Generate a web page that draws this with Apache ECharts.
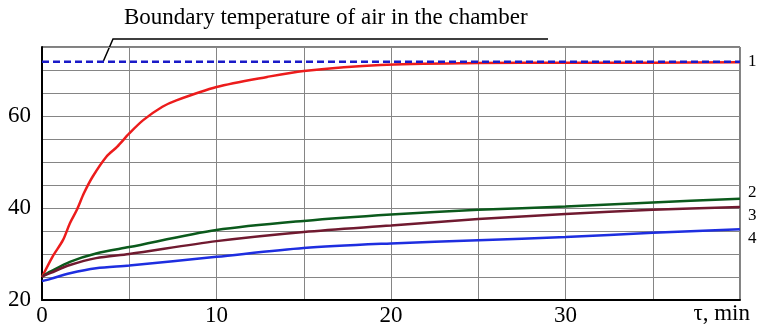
<!DOCTYPE html>
<html lang="en">
<head>
    <meta charset="UTF-8">
    <title>Air temperature in the chamber</title>
    <style>
        * {
            margin: 0px;
            padding: 0px;
        }

        #main {
            width: 757px;
            height: 328px;
            background-color: #ffffff;
        }
    </style>
</head>
<body>
<div id="main"></div>
<script src="https://cdn.jsdelivr.net/npm/echarts@6/dist/echarts.min.js"></script>
<script type="text/javascript">
    // curve 1 (red)
    var timeRed = [0, 0.6, 1.2, 1.6, 2.0, 2.4, 2.9, 3.7, 4.3, 5.0, 5.8, 6.9, 7.7, 10, 12.9, 15, 19.4, 25, 30, 35, 40];
    var tempRed = [25.0, 29.4, 33.0, 36.7, 39.6, 43.2, 46.8, 51.2, 53.3, 56.2, 59.1, 62.0, 63.4, 66.3, 68.5, 69.8, 71.1, 71.5, 71.6, 71.6, 71.7];

    // curves 2..4 share the same time samples
    var timeLow = [0, 0.5, 1.6, 3.1, 5, 10, 15, 20, 25, 30, 35, 40];
    var tempGreen = [25.1, 26.2, 28.3, 30.1, 31.5, 35.2, 37.2, 38.6, 39.6, 40.3, 41.2, 42.0];
    var tempMaroon = [25.1, 25.9, 27.6, 29.1, 30.0, 32.8, 34.8, 36.2, 37.6, 38.7, 39.6, 40.2];
    var tempBlue = [24.1, 24.6, 25.8, 26.9, 27.5, 29.4, 31.3, 32.3, 33.0, 33.7, 34.6, 35.4];

    var boundaryTemp = 71.8;
    var xTickLabels = [0, 10, 20, 30];
    var yTickLabels = [20, 40, 60];
    var curveNames = ['1', '2', '3', '4'];

    function pairs(xs, ys) {
        var out = [];
        for (var i = 0; i < xs.length; i++) {
            out.push([xs[i], ys[i]]);
        }
        return out;
    }

    var serif = 'Liberation Serif';

    function curve(name, data, color, offset) {
        return {
            name: name,
            type: 'line',
            data: data,
            smooth: 0.3,
            showSymbol: false,
            lineStyle: {color: color, width: 2.5},
            endLabel: {
                show: true,
                formatter: name,
                color: '#000',
                fontFamily: serif,
                fontSize: 17,
                offset: offset
            },
            z: 3
        };
    }

    var myChart = echarts.init(document.getElementById('main'));
    myChart.setOption({
        animation: false,
        grid: {
            left: 42,
            right: 17,
            top: 47,
            bottom: 28,
            show: true,
            borderColor: '#000',
            borderWidth: 1
        },
        xAxis: {
            type: 'value',
            min: 0,
            max: 40,
            interval: 5,
            axisLine: {lineStyle: {color: '#000', width: 2}},
            axisTick: {show: false},
            splitLine: {lineStyle: {color: '#858585', width: 1}},
            axisLabel: {
                color: '#000',
                fontFamily: serif,
                fontSize: 23,
                margin: 4,
                formatter: function (v) {
                    return xTickLabels.indexOf(v) >= 0 ? String(v) : '';
                }
            }
        },
        yAxis: {
            type: 'value',
            min: 20,
            max: 75,
            interval: 5,
            axisLine: {show: true, lineStyle: {color: '#000', width: 2}},
            axisTick: {show: false},
            splitLine: {lineStyle: {color: '#858585', width: 1}},
            axisLabel: {
                color: '#000',
                fontFamily: serif,
                fontSize: 23,
                margin: 11,
                formatter: function (v) {
                    return yTickLabels.indexOf(v) >= 0 ? String(v) : '';
                }
            }
        },
        series: [
            {
                name: 'boundary',
                type: 'line',
                data: pairs([0, 40], [boundaryTemp, boundaryTemp]),
                showSymbol: false,
                lineStyle: {color: '#1a1ac8', width: 2.5, type: [7, 4]},
                z: 4
            },
            curve(curveNames[0], pairs(timeRed, tempRed), '#ec1c1c', [0, -1]),
            curve(curveNames[1], pairs(timeLow, tempGreen), '#0b5a1c', [0, -6]),
            curve(curveNames[2], pairs(timeLow, tempMaroon), '#701a30', [0, 8]),
            curve(curveNames[3], pairs(timeLow, tempBlue), '#1e2ee0', [0, 9])
        ],
        graphic: [
            {
                type: 'text',
                left: 124,
                top: 6,
                style: {
                    text: 'Boundary temperature of air in the chamber',
                    font: '23px "Liberation Serif"',
                    fill: '#000'
                }
            },
            {
                type: 'polyline',
                shape: {points: [[103, 62], [113, 39], [548, 39]]},
                style: {stroke: '#000', lineWidth: 1.5, fill: null}
            },
            {
                type: 'text',
                right: 7,
                top: 302,
                style: {
                    text: 'τ, min',
                    font: '23px "Liberation Serif"',
                    fill: '#000'
                }
            }
        ]
    });
</script>
</body>
</html>
